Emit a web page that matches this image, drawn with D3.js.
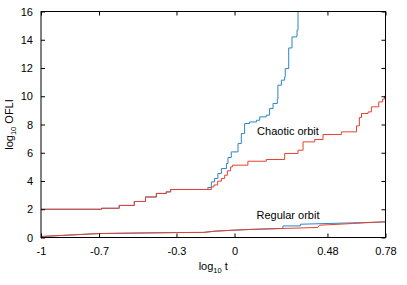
<!DOCTYPE html>
<html>
<head>
<meta charset="utf-8">
<script src="https://cdn.jsdelivr.net/npm/d3@7"></script>
<style>
  body { margin: 0; background: #fff; }
  svg { display: block; font-family: "Liberation Sans", Arial, sans-serif; }
</style>
</head>
<body>
<script>
const WIDTH = 407;
const HEIGHT = 285;

// tick values / labels
const xTicks = [-1, -0.7, -0.3, 0, 0.48, 0.78];
const yTicks = [0, 2, 4, 6, 8, 10, 12, 14, 16];

// chaotic orbit, red curve  [log10 t, log10 OFLI]
const chaoticRed = [
    [-1, 2.0], [-0.687, 2.07], [-0.596, 2.27], [-0.518, 2.55], [-0.46, 2.87],
    [-0.404, 3.12], [-0.353, 3.23], [-0.33, 3.40], [-0.146, 3.40], [-0.12, 3.58],
    [-0.107, 3.72], [-0.087, 3.99], [-0.068, 4.18], [-0.051, 4.41], [-0.037, 4.72],
    [-0.02, 5.0], [-0.011, 5.12], [0.069, 5.40], [0.164, 5.52], [0.259, 5.95],
    [0.328, 6.18], [0.354, 6.77], [0.414, 6.94], [0.457, 7.29], [0.552, 7.48],
    [0.63, 7.9], [0.645, 8.5], [0.656, 8.78], [0.69, 8.89], [0.707, 9.25],
    [0.745, 9.6], [0.765, 9.8], [0.775, 10.0], [0.79, 10.0]
];

// chaotic orbit, blue curve (after it leaves the red one)
const chaoticBlue = [
    [-0.146, 3.40], [-0.138, 3.54], [-0.12, 3.94], [-0.103, 4.18], [-0.086, 4.53],
    [-0.068, 4.88], [-0.042, 5.24], [-0.034, 5.66], [-0.017, 6.06], [0.018, 6.65],
    [0.035, 7.36], [0.052, 8.07], [0.078, 8.18], [0.113, 8.30], [0.13, 8.54],
    [0.164, 8.66], [0.181, 9.13], [0.199, 9.49], [0.221, 9.79], [0.224, 10.78],
    [0.242, 11.14], [0.259, 11.37], [0.262, 11.96], [0.28, 13.42], [0.297, 14.2],
    [0.32, 14.27], [0.323, 14.68], [0.328, 17]
];

// regular orbit
const regularRed = [
    [-1, 0.07], [-0.7, 0.28], [-0.3, 0.35], [-0.16, 0.36], [-0.1, 0.45],
    [0, 0.52], [0.08, 0.57], [0.25, 0.64], [0.43, 0.71], [0.44, 0.87],
    [0.61, 0.99], [0.78, 1.12]
];
const regularBlue = [
    [-1, 0.07], [-0.7, 0.28], [-0.3, 0.35], [-0.16, 0.36], [-0.1, 0.45],
    [0, 0.52], [0.08, 0.57], [0.25, 0.64], [0.25, 0.82], [0.34, 0.82],
    [0.34, 0.94], [0.78, 1.1]
];

const BLUE = "#2b86c6";
const RED = "#e8402f";

const margin = {left: 41, right: 21.5, top: 11.5, bottom: 47.5};
const x = d3.scaleLinear().domain([-1, 0.78]).range([margin.left, WIDTH - margin.right]);
const y = d3.scaleLinear().domain([0, 16]).range([HEIGHT - margin.bottom, margin.top]);

const svg = d3.select("body").append("svg")
    .attr("width", WIDTH)
    .attr("height", HEIGHT);

svg.append("clipPath").attr("id", "clip")
  .append("rect")
    .attr("x", x(-1))
    .attr("y", y(16))
    .attr("width", x(0.78) - x(-1))
    .attr("height", y(0) - y(16));

const stepLine = d3.line()
    .x(d => x(d[0]))
    .y(d => y(d[1]))
    .curve(d3.curveStepAfter);
const plainLine = d3.line()
    .x(d => x(d[0]))
    .y(d => y(d[1]));

const g = svg.append("g").attr("clip-path", "url(#clip)");

// blue first, red drawn on top
const blueFull = chaoticRed.filter(d => d[0] < -0.146).concat(chaoticBlue);
g.append("path").attr("d", stepLine(blueFull))
    .attr("fill", "none").attr("stroke", BLUE).attr("stroke-width", 1);
g.append("path").attr("d", plainLine(regularBlue))
    .attr("fill", "none").attr("stroke", BLUE).attr("stroke-width", 1);
g.append("path").attr("d", stepLine(chaoticRed))
    .attr("fill", "none").attr("stroke", RED).attr("stroke-width", 1);
g.append("path").attr("d", plainLine(regularRed))
    .attr("fill", "none").attr("stroke", RED).attr("stroke-width", 1);

// frame
svg.append("rect")
    .attr("x", x(-1))
    .attr("y", y(16))
    .attr("width", x(0.78) - x(-1))
    .attr("height", y(0) - y(16))
    .attr("fill", "none")
    .attr("stroke", "#000")
    .attr("stroke-width", 1);

// axes with inner ticks, mirrored
const tk = 4;
svg.append("g")
    .attr("transform", `translate(0,${y(0)})`)
    .call(d3.axisBottom(x).tickValues(xTicks).tickSize(-tk).tickPadding(tk + 6).tickFormat(d => String(d)))
    .call(a => a.select(".domain").remove());
svg.append("g")
    .attr("transform", `translate(0,${y(16)})`)
    .call(d3.axisTop(x).tickValues(xTicks).tickSize(-tk).tickFormat(""))
    .call(a => a.select(".domain").remove());
svg.append("g")
    .attr("transform", `translate(${x(-1)},0)`)
    .call(d3.axisLeft(y).tickValues(yTicks).tickSize(-tk).tickPadding(tk + 4))
    .call(a => a.select(".domain").remove());
svg.append("g")
    .attr("transform", `translate(${x(0.78)},0)`)
    .call(d3.axisRight(y).tickValues(yTicks).tickSize(-tk).tickFormat(""))
    .call(a => a.select(".domain").remove());

svg.selectAll(".tick text")
    .attr("font-size", 11)
    .attr("font-family", "Liberation Sans, Arial, sans-serif")
    .attr("fill", "#000");

// axis titles
const xt = svg.append("text")
    .attr("x", (x(-1) + x(0.78)) / 2)
    .attr("y", 270)
    .attr("text-anchor", "middle")
    .attr("font-size", 11);
xt.append("tspan").text("log");
xt.append("tspan").text("10").attr("font-size", 7.5).attr("dy", 3);
xt.append("tspan").text(" t").attr("dy", -3);

const yt = svg.append("text")
    .attr("transform", `translate(13,${(y(0) + y(16)) / 2}) rotate(-90)`)
    .attr("text-anchor", "middle")
    .attr("font-size", 11);
yt.append("tspan").text("log");
yt.append("tspan").text("10").attr("font-size", 7.5).attr("dy", 3);
yt.append("tspan").text(" OFLI").attr("dy", -3);

// labels
svg.append("text")
    .attr("x", 288).attr("y", 135)
    .attr("text-anchor", "middle")
    .attr("font-size", 11)
    .text("Chaotic orbit");
svg.append("text")
    .attr("x", 288).attr("y", 219)
    .attr("text-anchor", "middle")
    .attr("font-size", 11)
    .text("Regular orbit");
</script>
</body>
</html>
